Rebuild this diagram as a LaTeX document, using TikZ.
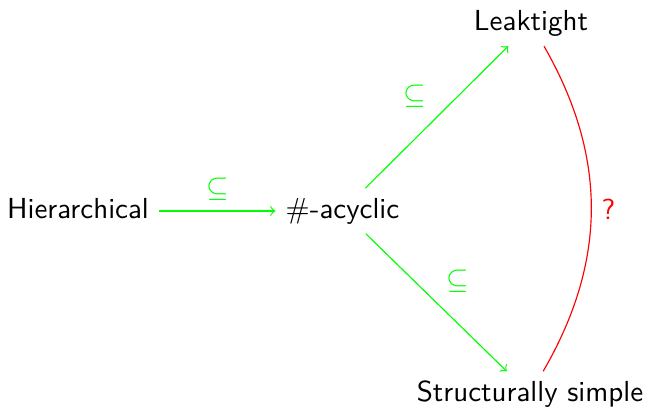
\documentclass[tikz,border=0pt]{standalone}
\usepackage{amssymb}
\newlength{\du}
\setlength{\du}{0.345pt}
\definecolor{inclcolor}{rgb}{0.000000, 1.000000, 0.000000}
\definecolor{opencolor}{rgb}{1.000000, 0.000000, 0.000000}
\tikzset{
  classnode/.style={font=\sffamily, text height=1.6ex, text depth=.4ex, anchor=base},
  inclarrow/.style={->, draw=inclcolor},
  incllabel/.style={auto, text=inclcolor},
}
\begin{document}
\begin{tikzpicture}[x=\du,y=\du]
\useasboundingbox (0,0) rectangle (646,408);
% classes
\node[classnode] (hier) at (78,189.5) {Hierarchical};
\node[classnode] (acyc) at (342.5,189.5) {$\#$-acyclic};
\node[classnode] (leak) at (531,377) {Leaktight};
\node[classnode] (struct) at (530,6.5) {Structurally simple};
% inclusions
\draw[inclarrow] (hier) -- node[incllabel] {$\subseteq$} (acyc);
\draw[inclarrow] (acyc) -- node[incllabel] {$\subseteq$} (leak);
\draw[inclarrow] (acyc) -- node[incllabel] {$\subseteq$} (struct);
% open question
\draw[opencolor] (leak) to[bend left=30] node[auto, text=opencolor, font=\sffamily] {?} (struct);
\end{tikzpicture}
\end{document}
